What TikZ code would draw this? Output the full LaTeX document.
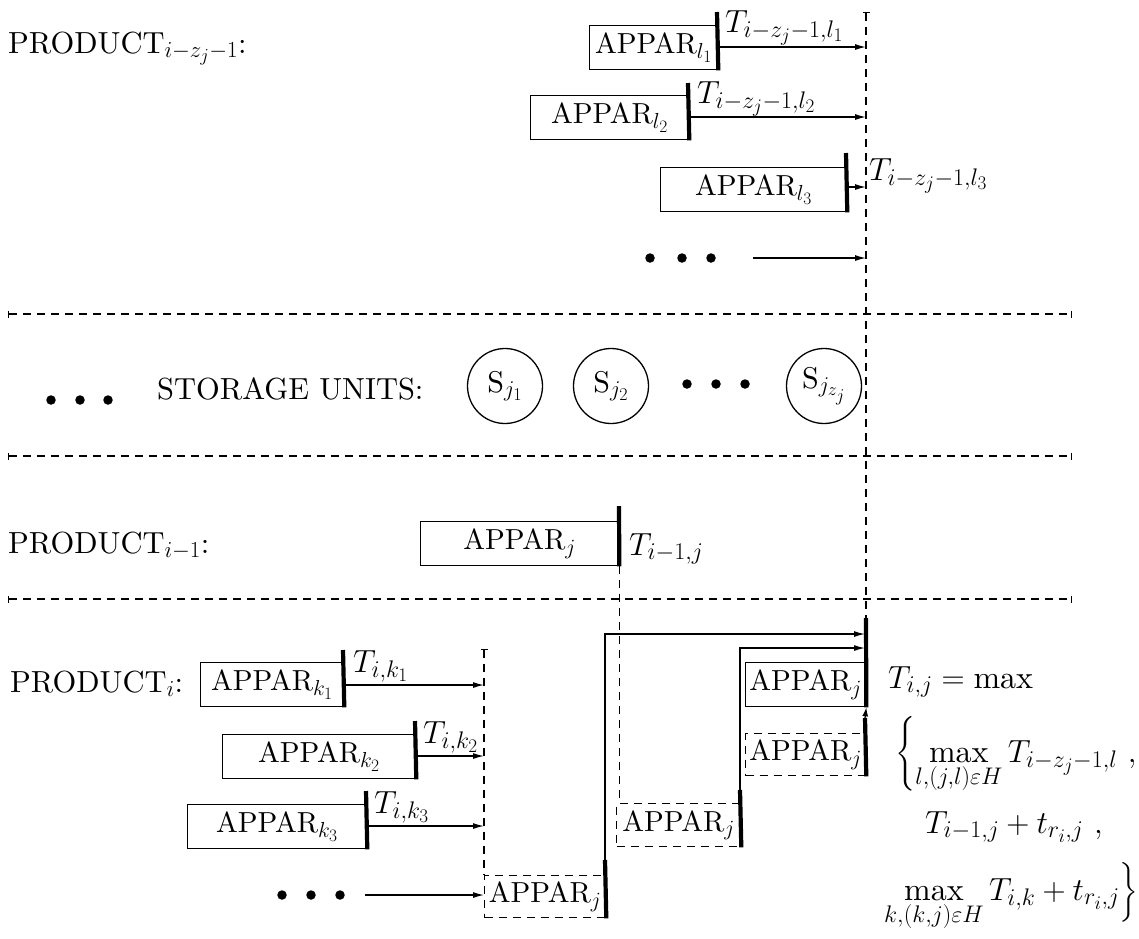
\RequirePackage{fix-cm}
\documentclass[tikz,border=0pt]{standalone}
\usepackage{amsmath}
\usepackage{fontspec}
\setmainfont{lmroman10-regular.otf}[ItalicFont=lmroman10-italic.otf,BoldFont=lmroman10-bold.otf]
\renewcommand\defaultscriptratio{.75}
\renewcommand\defaultscriptscriptratio{.6}
\usetikzlibrary{arrows.meta,calc}
\begin{document}
\begin{tikzpicture}[x=1pt,y=-1pt,
  every node/.style={font=\fontsize{29}{35}\selectfont, inner sep=0pt},
  lbl/.style={font=\fontsize{30.5}{36}\selectfont, anchor=base west},
  apparbox/.style={draw, line width=1.3pt, minimum height=44, anchor=north west},
  dbox/.style={apparbox, dash pattern=on 8pt off 6pt},
  bar/.style={line width=4.2pt},
  arr/.style={line width=1.3pt, -{Latex[length=11pt,width=6pt]}},
  dline/.style={line width=1.3pt, dash pattern=on 8pt off 6pt},
  tick/.style={{Bar[width=7pt,line width=1.3pt]}-{Bar[width=7pt,line width=1.3pt]}},
  tlabel/.style={anchor=base west, font=\fontsize{32}{38}\selectfont},
  flabel/.style={anchor=base west, font=\fontsize{32}{38}\selectfont},
  su/.style={draw, circle, line width=1.3pt, minimum size=75, font=\fontsize{30}{36}\selectfont},
  dot/.style={fill, circle, minimum size=9.5}
]
\useasboundingbox (0,0) rectangle (1139,938);

% ---------- coordinates of the guide lines
\coordinate (vt) at (866,12);
\coordinate (vb) at (866,618);
\coordinate (h1L) at (8,314);  \coordinate (h1R) at (1072,314);
\coordinate (h2L) at (8,456);  \coordinate (h2R) at (1072,456);
\coordinate (h3L) at (8,599);  \coordinate (h3R) at (1072,599);

% ---------- top: PRODUCT_{i-z_j-1}
\node[lbl] (p1) at (8,53) {PRODUCT$_{i-z_j-1}$:};

\node[apparbox, minimum width=128] (l1) at (589,25) {APPAR$_{l_1}$};
\node[apparbox, minimum width=158] (l2) at (530,95) {APPAR$_{l_2}$};
\node[apparbox, minimum width=186] (l3) at (660,167) {APPAR$_{l_3}$};

\coordinate (l1t) at (717,12);  \coordinate (l1a) at (717,47);
\coordinate (l2t) at (688,83);  \coordinate (l2a) at (688,117);
\coordinate (l3t) at (846,153); \coordinate (l3a) at (846,187);

\draw[bar] (l1t) -- (l1.south east);
\draw[bar] (l2t) -- (l2.south east);
\draw[bar] (l3t) -- (l3.south east);

\draw[arr] (l1a) -- (l1a -| vt);
\draw[arr] (l2a) -- (l2a -| vt);
\draw[arr] (l3a) -- (l3a -| vt);

\node[tlabel] (tl1) at (725,32) {$T_{i-z_j-1,l_1}$};
\node[tlabel] (tl2) at (697,103) {$T_{i-z_j-1,l_2}$};
\node[tlabel] (tl3) at (869,180) {$T_{i-z_j-1,l_3}$};

\node[dot] (d1) at (650,258) {};
\node[dot] (d2) at (682,258) {};
\node[dot] (d3) at (711,258) {};
\coordinate (da) at (753,258);
\draw[arr] (da) -- (da -| vt);

% vertical dashed line
\draw[dline, {Bar[width=7pt,line width=1.3pt]}-] (vt) -- (vb);

% horizontal dashed lines
\draw[dline, tick] (h1L) -- (h1R);
\draw[dline, tick] (h2L) -- (h2R);
\draw[dline, tick] (h3L) -- (h3R);

% ---------- storage units
\node[dot] (sd1) at (51,400) {};
\node[dot] (sd2) at (80,400) {};
\node[dot] (sd3) at (108,400) {};
\node[lbl] (st) at (157,399) {STORAGE UNITS:};
\node[su] (s1) at (505,386) {S$_{j_1}$};
\node[su] (s2) at (611,386) {S$_{j_2}$};
\node[dot] (sd4) at (687,384) {};
\node[dot] (sd5) at (716,384) {};
\node[dot] (sd6) at (745,384) {};
\node[su] (s3) at (824,386) {S$_{j_{z_j}}$};

% ---------- PRODUCT_{i-1}
\node[lbl] (p2) at (8,553) {PRODUCT$_{i-1}$:};
\node[apparbox, minimum width=198] (aj) at (420,521) {APPAR$_j$};
\coordinate (ajt) at (619,506);
\draw[bar] (ajt) -- (aj.south east);
\node[tlabel] (taj) at (629,555) {$T_{i-1,j}$};

% ---------- PRODUCT_i
\node[lbl] (p3) at (10,692) {PRODUCT$_i$:};
\node[apparbox, minimum width=143] (k1) at (200,662) {APPAR$_{k_1}$};
\node[apparbox, minimum width=193] (k2) at (222,734) {APPAR$_{k_2}$};
\node[apparbox, minimum width=179] (k3) at (187,804) {APPAR$_{k_3}$};

\coordinate (k1t) at (343,650); \coordinate (k1a) at (343,685);
\coordinate (k2t) at (415,721); \coordinate (k2a) at (415,756);
\coordinate (k3t) at (366,791); \coordinate (k3a) at (366,826);
\draw[bar] (k1t) -- (k1.south east);
\draw[bar] (k2t) -- (k2.south east);
\draw[bar] (k3t) -- (k3.south east);

\coordinate (v2t) at (484,649);
\draw[arr] (k1a) -- (k1a -| v2t);
\draw[arr] (k2a) -- (k2a -| v2t);
\draw[arr] (k3a) -- (k3a -| v2t);

\node[tlabel] (tk1) at (353,672) {$T_{i,k_1}$};
\node[tlabel] (tk2) at (423,743) {$T_{i,k_2}$};
\node[tlabel] (tk3) at (374,813) {$T_{i,k_3}$};

\node[dot] (kd1) at (282,895) {};
\node[dot] (kd2) at (311,895) {};
\node[dot] (kd3) at (340,895) {};
\coordinate (kda) at (365,895);

% dashed boxes (shifted APPAR_j)
\node[dbox, minimum width=121, minimum height=42] (b1) at (484,875) {APPAR$_j$};
\node[dbox, minimum width=124, minimum height=43] (b2) at (616,803) {APPAR$_j$};
\node[apparbox, minimum width=120] (b3) at (745,662) {APPAR$_j$};
\node[dbox, minimum width=120, minimum height=42] (b4) at (745,733) {APPAR$_j$};

\draw[arr] (kda) -- (kda -| b1.west);
\draw[dline, {Bar[width=7pt,line width=1.3pt]}-] (v2t) -- (b1.north west);
\draw[dline] (aj.south east) -- (b2.north west -| aj.south east);

\coordinate (b1t) at (605,860);
\coordinate (b2t) at (740,790);
\coordinate (b4t) at (865,718);
\coordinate (a1) at (865,634);
\coordinate (a2) at (865,648);
\draw[bar] (b1t) -- (b1.south east);
\draw[bar] (b2t) -- (b2.south east);
\draw[bar] (vb) -- (b3.south east);
\draw[bar] (b4t) -- (b4.south east);

\draw[arr] (b1t) |- (a1);
\draw[arr] (b2t) |- (a2);
\draw[line width=1.3pt, -{Latex[length=9pt,width=6pt]}] (b4t) -- (b3.south east);

% ---------- formula
\node[flabel] (f1) at (888,688) {$T_{i,j} = \max$};
\node[flabel] (f2) at (895,762) {$\biggl\{\max\limits_{l,(j,l)\varepsilon H} T_{i-z_j-1,l}\ ,$};
\node[flabel] (f3) at (925,833) {$T_{i-1,j} + t_{r_i,j}\ ,$};
\node[flabel] (f4) at (884,900) {$\max\limits_{k,(k,j)\varepsilon H} T_{i,k} + t_{r_i,j}\Bigr\}$};
\end{tikzpicture}
\end{document}
